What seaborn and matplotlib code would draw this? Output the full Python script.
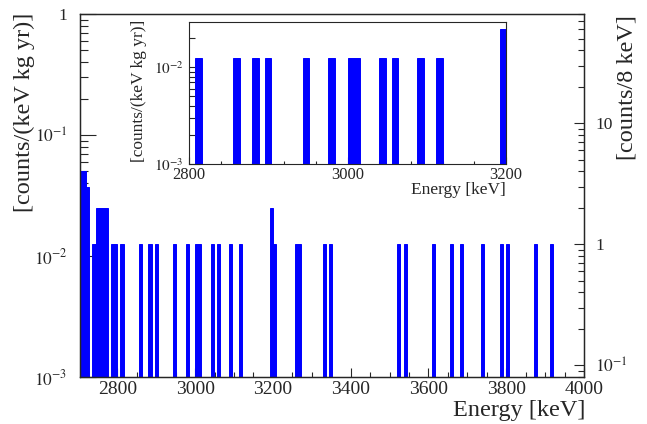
import numpy as np
import pandas as pd
import matplotlib
matplotlib.use("Agg")
import matplotlib.pyplot as plt
import matplotlib.ticker as mticker
import seaborn as sns

# lower edges of the 8 keV bins that have events, and events per bin
bin_lo = [2704, 2712, 2720, 2736, 2744, 2752, 2760, 2768, 2784, 2792,
          2808, 2856, 2880, 2896, 2944, 2976, 3000, 3008, 3040, 3056,
          3088, 3112, 3192, 3200, 3256, 3264, 3328, 3344, 3520, 3536,
          3608, 3656, 3680, 3736, 3784, 3800, 3872, 3912]
counts = [4, 4, 3, 1, 2, 2, 2, 2, 1, 1,
          1, 1, 1, 1, 1, 1, 1, 1, 1, 1,
          1, 1, 2, 1, 1, 1, 1, 1, 1, 1,
          1, 1, 1, 1, 1, 1, 1, 1]
bin_width = 8       # keV
exposure = 10       # kg yr
e_min, e_max = 2704, 4000

left_ticks = [1e-3, 1e-2, 1e-1, 1]
left_labels = ["$10^{-3}$", "$10^{-2}$", "$10^{-1}$", "1"]
right_ticks = [0.1, 1, 10]
right_labels = ["$10^{-1}$", "1", "10"]
inset_ticks = [1e-3, 1e-2]
inset_labels = ["$10^{-3}$", "$10^{-2}$"]

sns.set_style("ticks")
plt.rcParams["font.family"] = ["Liberation Serif", "DejaVu Serif"]
plt.rcParams["mathtext.fontset"] = "stix"

df = pd.DataFrame({
    "energy": np.array(bin_lo) + bin_width / 2,
    "rate": np.array(counts) / (bin_width * exposure),
})
n_bins = (e_max - e_min) // bin_width

fig = plt.figure(figsize=(6.47, 4.24), dpi=100)
ax = fig.add_axes([0.1236, 0.1108, 0.779, 0.856])

sns.histplot(data=df, x="energy", weights="rate", bins=n_bins,
             binrange=(e_min, e_max), ax=ax, color="blue", alpha=1,
             edgecolor="blue", linewidth=0.7, element="bars")
ax.set_yscale("log")
ax.set_xlim(e_min, e_max)
ax.set_ylim(1e-3, 1)
ax.set_xlabel("")
ax.set_ylabel("")
ax.xaxis.set_major_locator(mticker.MultipleLocator(200))
ax.xaxis.set_minor_locator(mticker.MultipleLocator(50))
ax.yaxis.set_major_locator(mticker.FixedLocator(left_ticks))
ax.yaxis.set_major_formatter(mticker.FixedFormatter(left_labels))
ax.yaxis.set_minor_locator(mticker.LogLocator(subs=np.arange(2, 10)))
ax.yaxis.set_minor_formatter(mticker.NullFormatter())
ax.tick_params(axis="x", which="major", direction="in", length=6.5, width=0.8,
               labelsize=14, pad=3)
ax.tick_params(axis="x", which="minor", direction="in", length=3.5, width=0.8)
ax.tick_params(axis="y", which="major", direction="in", length=11.5, width=0.8,
               labelsize=12.5, pad=9)
ax.tick_params(axis="y", which="minor", direction="in", length=5.8, width=0.8)
for s in ax.spines.values():
    s.set_linewidth(1)

# right axis in counts per bin
ax2 = ax.twinx()
ax2.set_yscale("log")
ax2.set_ylim(1e-3 * bin_width * exposure, 1 * bin_width * exposure)
ax2.yaxis.set_major_locator(mticker.FixedLocator(right_ticks))
ax2.yaxis.set_major_formatter(mticker.FixedFormatter(right_labels))
ax2.yaxis.set_minor_locator(mticker.LogLocator(subs=np.arange(2, 10)))
ax2.yaxis.set_minor_formatter(mticker.NullFormatter())
ax2.tick_params(axis="y", which="major", direction="in", length=7, width=0.8,
                labelsize=12.5, pad=8)
ax2.tick_params(axis="y", which="minor", direction="in", length=4, width=0.8)

fig.text(0.038, 0.969, "[counts/(keV kg yr)]", rotation=90, ha="center",
         va="top", fontsize=17.5)
fig.text(0.969, 0.965, "[counts/8 keV]", rotation=90, ha="center",
         va="top", fontsize=17.5)
fig.text(0.904, 0.033, "Energy [keV]", ha="right", va="center", fontsize=17.5)

# inset zoom
axi = fig.add_axes([0.2921, 0.6132, 0.490, 0.3356])
sns.histplot(data=df, x="energy", weights="rate", bins=n_bins,
             binrange=(e_min, e_max), ax=axi, color="blue", alpha=1,
             edgecolor="blue", linewidth=0.7, element="bars")
axi.set_yscale("log")
axi.set_xlim(2800, 3200)
axi.set_ylim(1e-3, 0.0296)
axi.set_xlabel("")
axi.set_ylabel("")
axi.xaxis.set_major_locator(mticker.MultipleLocator(200))
axi.xaxis.set_minor_locator(mticker.MultipleLocator(40))
axi.yaxis.set_major_locator(mticker.FixedLocator(inset_ticks))
axi.yaxis.set_major_formatter(mticker.FixedFormatter(inset_labels))
axi.yaxis.set_minor_locator(mticker.LogLocator(subs=np.arange(2, 10)))
axi.yaxis.set_minor_formatter(mticker.NullFormatter())
axi.tick_params(axis="x", which="major", direction="in", length=5, width=0.8,
                labelsize=12, pad=2)
axi.tick_params(axis="x", which="minor", direction="in", length=2.5, width=0.8)
axi.tick_params(axis="y", which="major", direction="in", length=8, width=0.8,
                labelsize=11, pad=4)
axi.tick_params(axis="y", which="minor", direction="in", length=4, width=0.8)
fig.text(0.215, 0.953, "[counts/(keV kg yr)]", rotation=90, ha="center",
         va="top", fontsize=12.5)
fig.text(0.781, 0.552, "Energy [keV]", ha="right", va="center", fontsize=12.5)

fig.savefig("out.png", dpi=100)
